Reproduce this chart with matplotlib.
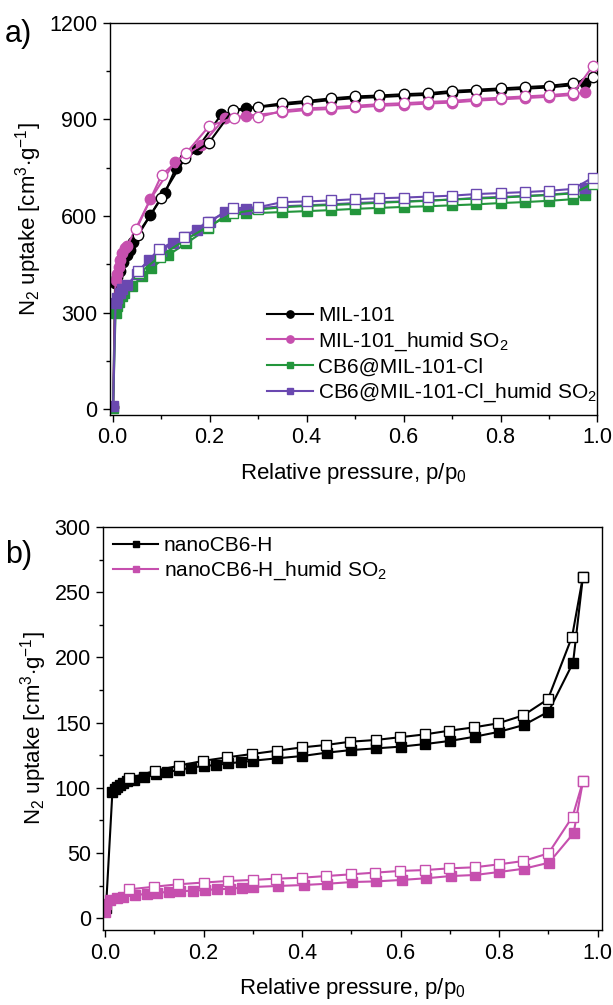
"""N2 sorption isotherms (77 K) before/after humid SO2 exposure."""
import matplotlib
matplotlib.use("Agg")
import matplotlib.pyplot as plt
from matplotlib.ticker import MultipleLocator

plt.rcParams["font.family"] = ["Liberation Sans", "DejaVu Sans"]
plt.rcParams["mathtext.fontset"] = "custom"
plt.rcParams["mathtext.rm"] = "Liberation Sans"
plt.rcParams["mathtext.it"] = "Liberation Sans:italic"
plt.rcParams["axes.linewidth"] = 1.0

# --- panel a: MIL-101 / CB6@MIL-101-Cl -------------------------------------
hi_p = [0.35, 0.40, 0.45, 0.50, 0.55, 0.60, 0.65, 0.70, 0.75, 0.80, 0.85, 0.90, 0.95]

mil_ads_x = [0.001, 0.005, 0.010, 0.015, 0.022, 0.030, 0.036, 0.041, 0.078, 0.108,
             0.130, 0.174, 0.224, 0.276] + hi_p + [0.975]
mil_ads_y = [8, 391, 410, 430, 458, 480, 494, 520, 603, 672,
             748, 808, 915, 934,
             945, 952, 960, 966, 969, 973, 976, 983, 987, 991, 995, 999, 1006, 1014]
mil_des_x = [0.99] + hi_p[::-1] + [0.299, 0.248, 0.199, 0.149, 0.100, 0.053]
mil_des_y = [1030, 1012, 1004, 1000, 996, 992, 988, 981, 978, 974, 971, 965, 957, 950,
             939, 929, 828, 779, 657, 541]

milso2_ads_x = [0.001, 0.006, 0.010, 0.013, 0.016, 0.020, 0.025, 0.030, 0.078, 0.128,
                0.183, 0.231, 0.276] + hi_p + [0.975]
milso2_ads_y = [8, 400, 420, 443, 463, 484, 500, 507, 652, 767,
                820, 903, 911,
                922, 929, 932, 937, 942, 945, 949, 952, 958, 962, 966, 970, 976, 986]
milso2_des_x = [0.99] + hi_p[::-1] + [0.300, 0.250, 0.199, 0.151, 0.101, 0.049]
milso2_des_y = [1065, 981, 975, 971, 967, 963, 957, 954, 950, 947, 942, 937, 934, 927,
                906, 905, 879, 794, 727, 559]

cb6_ads_x = [0.001, 0.006, 0.010, 0.014, 0.019, 0.024, 0.040, 0.060, 0.080, 0.115,
             0.152, 0.197, 0.231, 0.276] + hi_p + [0.975]
cb6_ads_y = [5, 300, 320, 334, 350, 360, 381, 412, 438, 479,
             515, 562, 600, 608,
             612, 615, 618, 622, 625, 628, 630, 633, 636, 640, 643, 647, 652, 665]
cb6_des_x = [0.99] + hi_p[::-1] + [0.300, 0.248, 0.197, 0.149, 0.097, 0.055]
cb6_des_y = [700, 670, 665, 661, 657, 654, 651, 647, 644, 641, 637, 634, 631, 627,
             620, 608, 567, 525, 474, 422]

cb6so2_ads_x = [0.001, 0.006, 0.010, 0.015, 0.020, 0.030, 0.050, 0.075, 0.100, 0.125,
                0.150, 0.173, 0.200, 0.231, 0.276] + hi_p + [0.975]
cb6so2_ads_y = [10, 329, 345, 360, 372, 386, 420, 463, 492, 517,
                535, 557, 580, 613, 621,
                630, 633, 636, 640, 643, 645, 648, 651, 656, 659, 662, 666, 672, 686]
cb6so2_des_x = [0.99] + hi_p[::-1] + [0.300, 0.248, 0.197, 0.148, 0.096, 0.053]
cb6so2_des_y = [719, 684, 678, 674, 671, 668, 663, 660, 657, 655, 652, 648, 645, 643,
                627, 624, 582, 536, 497, 429]

# --- panel b: nanoCB6-H ----------------------------------------------------
nano_ads_x = [0.002, 0.015, 0.020, 0.025, 0.030, 0.037, 0.045, 0.058, 0.079, 0.103,
              0.125, 0.150, 0.174, 0.200, 0.225, 0.250, 0.277, 0.300, 0.350, 0.400,
              0.450, 0.500, 0.550, 0.600, 0.650, 0.700, 0.750, 0.800, 0.850, 0.900,
              0.950, 0.970]
nano_ads_y = [8, 97, 99, 101, 102, 103.5, 105, 106, 108.6, 110.6,
              112, 113.7, 115.5, 116.8, 117.5, 118.8, 119.8, 120.8, 122.7, 124.4,
              127, 129, 130.3, 131.6, 133.6, 136, 139.2, 143, 148.2, 158.4,
              196, 262]
nano_des_x = [0.970, 0.948, 0.899, 0.849, 0.798, 0.749, 0.698, 0.649, 0.598, 0.549,
              0.498, 0.449, 0.399, 0.349, 0.299, 0.248, 0.199, 0.150, 0.101, 0.049]
nano_des_y = [262, 216, 168, 155.6, 149.5, 146.4, 143.8, 141, 138.8, 136.7,
              135.4, 132.9, 131, 128.5, 126, 123.4, 120.7, 117, 113, 107.3]

nanoso2_ads_x = [0.000, 0.003, 0.010, 0.024, 0.037, 0.061, 0.085, 0.105, 0.129, 0.152,
                 0.178, 0.203, 0.228, 0.254, 0.279, 0.301, 0.352, 0.403, 0.451, 0.502,
                 0.551, 0.602, 0.652, 0.702, 0.751, 0.800, 0.850, 0.901, 0.951, 0.970]
nanoso2_ads_y = [5, 11, 14, 15.3, 16.6, 17.6, 18.9, 19.6, 20.2, 20.7,
                 21.2, 21.7, 22.2, 22.7, 23.5, 24, 24.8, 25.5, 26.5, 27.8,
                 28.3, 29.4, 30.7, 32.4, 33.2, 35.5, 38, 42.6, 65.2, 105]
nanoso2_des_x = [0.970, 0.949, 0.900, 0.849, 0.800, 0.750, 0.699, 0.650, 0.599, 0.548,
                 0.499, 0.449, 0.399, 0.348, 0.300, 0.249, 0.200, 0.149, 0.100, 0.049]
nanoso2_des_y = [105, 78, 49.8, 43.9, 41.4, 39.1, 38.3, 37, 36.3, 35,
                 33.7, 32.4, 31.1, 30.4, 29.4, 28.6, 27.4, 26.1, 24.2, 22.2]

BLACK = "#000000"
MAGENTA = "#c64fae"
GREEN = "#23963c"
PURPLE = "#6a48b0"

YLABEL = r"N$_2$ uptake [cm$^3$$\cdot$g$^{-1}$]"
XLABEL = r"Relative pressure, p/p$_0$"


def isotherm(ax, ads_x, ads_y, des_x, des_y, color, marker, label, ms):
    ax.plot(ads_x, ads_y, color=color, lw=1.5, marker=marker, ms=ms,
            mfc=color, mec=color, label=label, zorder=2)
    ax.plot(des_x, des_y, color=color, lw=1.5, marker=marker, ms=ms,
            mfc="white", mec=color, mew=1.0, zorder=3)


def style_axes(ax):
    ax.tick_params(which="both", direction="out", labelsize=15.5, width=1.0,
                   top=False, right=False, pad=4)
    ax.tick_params(which="major", length=5)
    ax.tick_params(which="minor", length=3)
    ax.set_xlabel(XLABEL, fontsize=16, labelpad=9)
    ax.set_ylabel(YLABEL, fontsize=16, labelpad=4)


fig = plt.figure(figsize=(6.13, 10.05), dpi=100)
ax_a = fig.add_axes([0.1794, 0.5871, 0.7953, 0.3903])
ax_b = fig.add_axes([0.1685, 0.0746, 0.8130, 0.4010])

# panel a
isotherm(ax_a, mil_ads_x, mil_ads_y, mil_des_x, mil_des_y, BLACK, "o", "MIL-101", 7.5)
isotherm(ax_a, milso2_ads_x, milso2_ads_y, milso2_des_x, milso2_des_y, MAGENTA, "o",
         r"MIL-101_humid SO$_2$", 7.5)
isotherm(ax_a, cb6_ads_x, cb6_ads_y, cb6_des_x, cb6_des_y, GREEN, "s", "CB6@MIL-101-Cl", 7)
isotherm(ax_a, cb6so2_ads_x, cb6so2_ads_y, cb6so2_des_x, cb6so2_des_y, PURPLE, "s",
         r"CB6@MIL-101-Cl_humid SO$_2$", 7)
ax_a.set_xlim(-0.0055, 1.0)
ax_a.set_ylim(-18, 1200)
ax_a.xaxis.set_major_locator(MultipleLocator(0.2))
ax_a.xaxis.set_minor_locator(MultipleLocator(0.1))
ax_a.yaxis.set_major_locator(MultipleLocator(300))
ax_a.yaxis.set_minor_locator(MultipleLocator(150))
style_axes(ax_a)
ax_a.legend(loc="lower right", bbox_to_anchor=(1.025, -0.005), frameon=False, fontsize=15,
            handlelength=2.2, handletextpad=0.25, labelspacing=0.25, markerscale=0.7,
            borderaxespad=0.2)

# panel b
isotherm(ax_b, nano_ads_x, nano_ads_y, nano_des_x, nano_des_y, BLACK, "s", "nanoCB6-H", 6.5)
isotherm(ax_b, nanoso2_ads_x, nanoso2_ads_y, nanoso2_des_x, nanoso2_des_y, MAGENTA, "s",
         r"nanoCB6-H_humid SO$_2$", 6.5)
ax_b.set_xlim(-0.0035, 1.008)
ax_b.set_ylim(-9, 300)
ax_b.xaxis.set_major_locator(MultipleLocator(0.2))
ax_b.xaxis.set_minor_locator(MultipleLocator(0.1))
ax_b.yaxis.set_major_locator(MultipleLocator(50))
ax_b.yaxis.set_minor_locator(MultipleLocator(25))
style_axes(ax_b)
ax_b.legend(loc="upper left", frameon=False, fontsize=15, handlelength=2.2,
            handletextpad=0.25, labelspacing=0.2, markerscale=0.75, borderaxespad=0.05)

fig.text(0.008, 0.958, "a)", fontsize=22)
fig.text(0.008, 0.440, "b)", fontsize=22)

fig.savefig("out.png", dpi=100)
